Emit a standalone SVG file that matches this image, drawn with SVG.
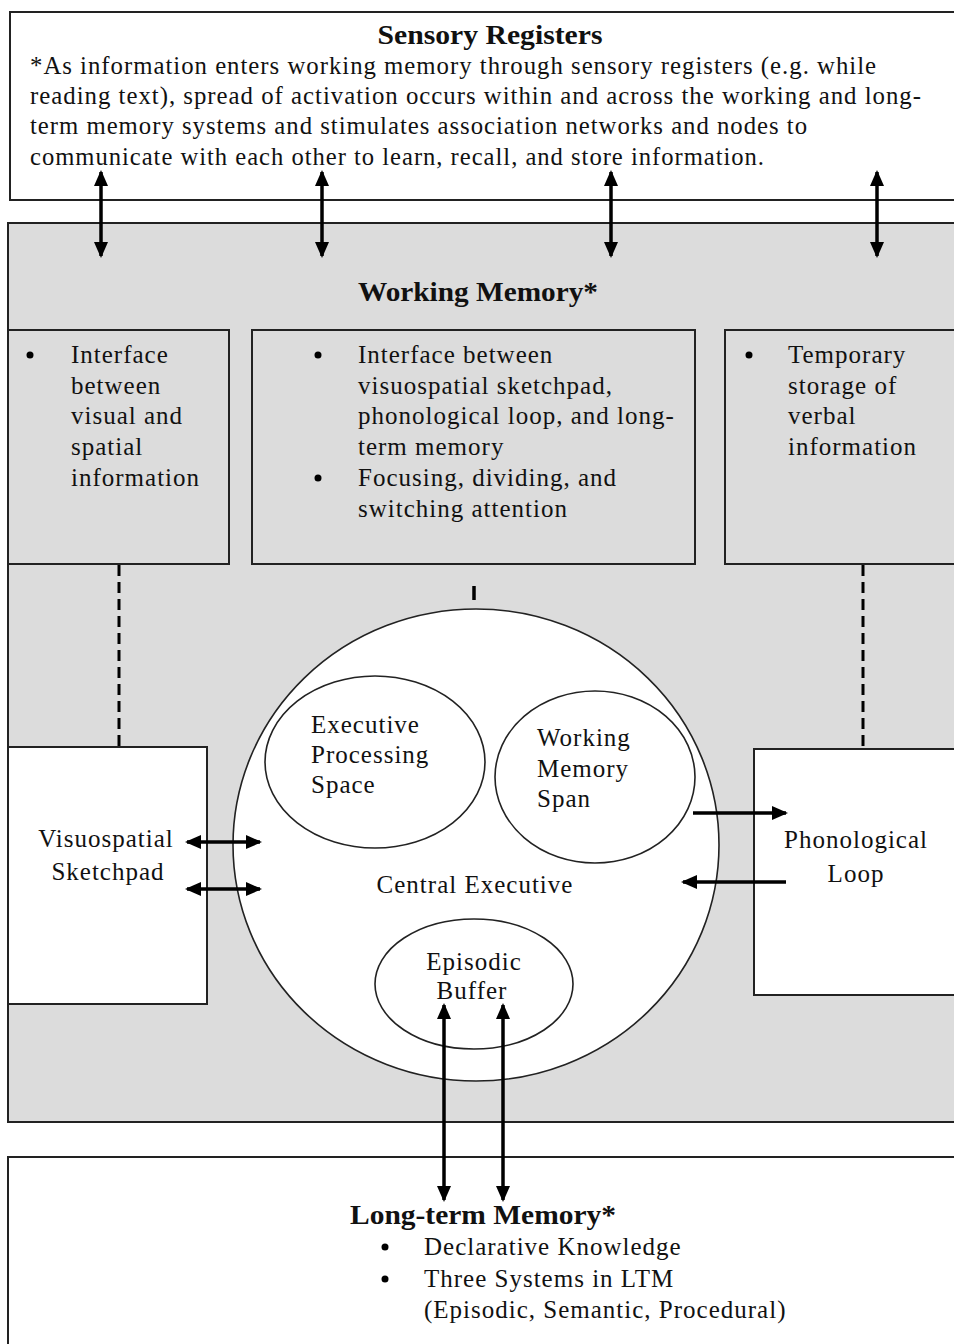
<svg xmlns="http://www.w3.org/2000/svg" width="954" height="1344" viewBox="0 0 954 1344">
<style>
.box{stroke:#222;stroke-width:2}
.gray{fill:#dcdcdc}
.white{fill:#fff}
.t{font-family:"Liberation Serif","Times New Roman",serif;font-size:25px;fill:#111;letter-spacing:1px}
.h{font-family:"Liberation Serif","Times New Roman",serif;font-size:27px;font-weight:bold;fill:#111}
.mid{text-anchor:middle}
.ell{fill:#fff;stroke:#222;stroke-width:1.6}
.arr{stroke:#000;stroke-width:3.5;fill:none}
.dash{stroke:#000;stroke-width:3;stroke-dasharray:11 6;fill:none}
.dot{fill:#000}
</style>
<defs>
<marker id="ah" markerUnits="userSpaceOnUse" markerWidth="16" markerHeight="14" refX="14" refY="7" orient="auto-start-reverse" viewBox="0 0 16 14">
<path d="M0,0 L16,7 L0,14 z" fill="#000"/>
</marker>
</defs>

<g id="sensory-registers">
<rect class="box white" x="10" y="12" width="950" height="188"/>
<text class="h mid" x="490" y="44" textLength="225" lengthAdjust="spacingAndGlyphs">Sensory Registers</text>
<text class="t" x="30" y="74" textLength="847" lengthAdjust="spacingAndGlyphs">*As information enters working memory through sensory registers (e.g. while</text>
<text class="t" x="30" y="104" textLength="892" lengthAdjust="spacingAndGlyphs">reading text), spread of activation occurs within and across the working and long-</text>
<text class="t" x="30" y="134" textLength="778" lengthAdjust="spacingAndGlyphs">term memory systems and stimulates association networks and nodes to</text>
<text class="t" x="30" y="165" textLength="735" lengthAdjust="spacingAndGlyphs">communicate with each other to learn, recall, and store information.</text>
</g>

<g id="working-memory">
<rect class="box gray" x="8" y="223" width="960" height="899"/>
<text class="h" x="358" y="301" textLength="240" lengthAdjust="spacingAndGlyphs">Working Memory*</text>
</g>

<g id="visual-spatial-info">
<rect class="box gray" x="8" y="330" width="221" height="234"/>
<circle class="dot" cx="30" cy="355" r="3.5"/>
<text class="t" x="71" y="363">Interface</text>
<text class="t" x="71" y="394">between</text>
<text class="t" x="71" y="424">visual and</text>
<text class="t" x="71" y="455">spatial</text>
<text class="t" x="71" y="486">information</text>
</g>

<g id="central-info">
<rect class="box gray" x="252" y="330" width="443" height="234"/>
<circle class="dot" cx="318" cy="355" r="3.5"/>
<text class="t" x="358" y="363">Interface between</text>
<text class="t" x="358" y="394">visuospatial sketchpad,</text>
<text class="t" x="358" y="424">phonological loop, and long-</text>
<text class="t" x="358" y="455">term memory</text>
<circle class="dot" cx="318" cy="478" r="3.5"/>
<text class="t" x="358" y="486">Focusing, dividing, and</text>
<text class="t" x="358" y="517">switching attention</text>
</g>

<g id="verbal-info">
<rect class="box gray" x="725" y="330" width="240" height="234"/>
<circle class="dot" cx="749" cy="355" r="3.5"/>
<text class="t" x="788" y="363">Temporary</text>
<text class="t" x="788" y="394">storage of</text>
<text class="t" x="788" y="424">verbal</text>
<text class="t" x="788" y="455">information</text>
</g>

<g id="central-executive">
<ellipse class="ell" cx="476" cy="845" rx="243" ry="236"/>
<text class="t mid" x="475" y="893">Central Executive</text>
</g>

<g id="executive-processing-space">
<ellipse class="ell" cx="375" cy="762" rx="110" ry="86"/>
<text class="t" x="311" y="733">Executive</text>
<text class="t" x="311" y="763">Processing</text>
<text class="t" x="311" y="793">Space</text>
</g>

<g id="working-memory-span">
<ellipse class="ell" cx="595" cy="777" rx="100" ry="86"/>
<text class="t" x="537" y="746">Working</text>
<text class="t" x="537" y="777">Memory</text>
<text class="t" x="537" y="807">Span</text>
</g>

<g id="episodic-buffer">
<ellipse class="ell" cx="474" cy="984" rx="99" ry="65"/>
<text class="t mid" x="474" y="970">Episodic</text>
<text class="t mid" x="472" y="999">Buffer</text>
</g>

<g id="visuospatial-sketchpad">
<rect class="box white" x="8" y="747" width="199" height="257"/>
<text class="t mid" x="106" y="847">Visuospatial</text>
<text class="t mid" x="108" y="880">Sketchpad</text>
</g>

<g id="phonological-loop">
<rect class="box white" x="754" y="749" width="210" height="246"/>
<text class="t mid" x="856" y="848">Phonological</text>
<text class="t mid" x="856" y="882">Loop</text>
</g>

<g id="long-term-memory">
<rect class="box white" x="8" y="1157" width="960" height="200"/>
<text class="h" x="350" y="1224" textLength="266" lengthAdjust="spacingAndGlyphs">Long-term Memory*</text>
<circle class="dot" cx="385" cy="1247" r="3.5"/>
<text class="t" x="424" y="1255">Declarative Knowledge</text>
<circle class="dot" cx="385" cy="1279" r="3.5"/>
<text class="t" x="424" y="1287">Three Systems in LTM</text>
<text class="t" x="424" y="1318">(Episodic, Semantic, Procedural)</text>
</g>

<g id="connectors">
<line class="arr" x1="101" y1="172" x2="101" y2="256" marker-start="url(#ah)" marker-end="url(#ah)"/>
<line class="arr" x1="322" y1="172" x2="322" y2="256" marker-start="url(#ah)" marker-end="url(#ah)"/>
<line class="arr" x1="611" y1="172" x2="611" y2="256" marker-start="url(#ah)" marker-end="url(#ah)"/>
<line class="arr" x1="877" y1="172" x2="877" y2="256" marker-start="url(#ah)" marker-end="url(#ah)"/>
<line class="dash" x1="119" y1="565" x2="119" y2="747"/>
<line class="dash" x1="863" y1="565" x2="863" y2="749"/>
<line class="arr" x1="474" y1="586" x2="474" y2="600"/>
<line class="arr" x1="187" y1="842" x2="260" y2="842" marker-start="url(#ah)" marker-end="url(#ah)"/>
<line class="arr" x1="187" y1="889" x2="260" y2="889" marker-start="url(#ah)" marker-end="url(#ah)"/>
<line class="arr" x1="693" y1="813" x2="786" y2="813" marker-end="url(#ah)"/>
<line class="arr" x1="786" y1="882" x2="683" y2="882" marker-end="url(#ah)"/>
<line class="arr" x1="444" y1="1005" x2="444" y2="1200" marker-start="url(#ah)" marker-end="url(#ah)"/>
<line class="arr" x1="503" y1="1005" x2="503" y2="1200" marker-start="url(#ah)" marker-end="url(#ah)"/>
</g>
</svg>
